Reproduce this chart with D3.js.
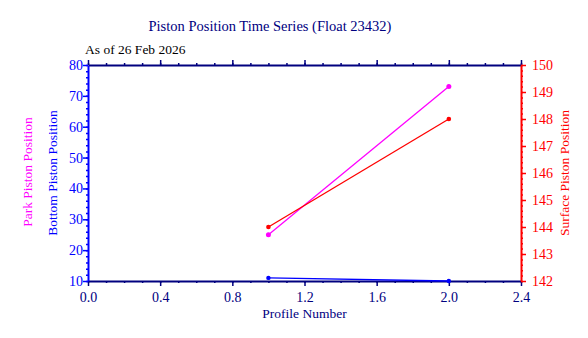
<!DOCTYPE html>
<html>
<head>
<meta charset="utf-8">
<script src="https://cdn.jsdelivr.net/npm/d3@7"></script>
<style>
  html, body { margin: 0; padding: 0; background: #fff; }
  svg text { font-family: "Liberation Serif", "Times New Roman", serif; }
</style>
</head>
<body>
<svg id="chart" width="588" height="338"></svg>
<script>
// Piston positions per profile
const profiles = [1, 2];
const parkPiston = [25, 73];
const bottomPiston = [11, 10];
const surfacePiston = [144, 148];

const xTicks = [0.0, 0.4, 0.8, 1.2, 1.6, 2.0, 2.4];
const leftTicks = [10, 20, 30, 40, 50, 60, 70, 80];
const rightTicks = [142, 143, 144, 145, 146, 147, 148, 149, 150];

const navy = "#00007f", blue = "#0000ff", red = "#ff0000", magenta = "#ff00ff";

const svg = d3.select("#chart");
const L = 88, R = 521, T = 65, B = 281;

const x = d3.scaleLinear().domain([0, 2.4]).range([L, R]);
const yL = d3.scaleLinear().domain([10, 80]).range([B, T]);
const yR = d3.scaleLinear().domain([142, 150]).range([B, T]);

// axes: major ticks with labels, minor ticks without
function drawAxis(axisFn, scale, major, minor, color, transform, labelColor, fmt, pad) {
  const gMin = svg.append("g").attr("transform", transform)
    .call(axisFn(scale).tickValues(minor).tickSize(2).tickFormat(""));
  gMin.select(".domain").remove();
  gMin.selectAll("line").attr("stroke", color).attr("stroke-width", 1.5);
  const g = svg.append("g").attr("transform", transform)
    .call(axisFn(scale).tickValues(major).tickSize(5).tickSizeOuter(0).tickPadding(pad).tickFormat(fmt));
  g.select(".domain").attr("stroke", color).attr("stroke-width", 2);
  g.selectAll("line").attr("stroke", color).attr("stroke-width", 1.5);
  g.selectAll("text").attr("fill", labelColor)
    .style("font-size", "14px");
  return g;
}

const xMinor = d3.range(0, 24.01, 1).map(d => d / 10);
const lMinor = d3.range(10, 80.01, 2);
const rMinor = d3.range(1420, 1500.01, 2).map(d => d / 10);

drawAxis(d3.axisBottom, x, xTicks, xMinor, navy, `translate(0,${B})`, navy, d3.format(".1f"), 6);
drawAxis(d3.axisTop, x, xTicks, xMinor, navy, `translate(0,${T})`, navy, "", 3);
drawAxis(d3.axisLeft, yL, leftTicks, lMinor, blue, `translate(${L},0)`, blue, d3.format("d"), 0);
drawAxis(d3.axisRight, yR, rightTicks, rMinor, red, `translate(${R},0)`, red, d3.format("d"), 6);

// series
function series(vals, scaleY, color, r) {
  const pts = profiles.map((p, i) => [p, vals[i]]);
  svg.append("path").datum(pts)
    .attr("fill", "none").attr("stroke", color).attr("stroke-width", 1.3)
    .attr("d", d3.line().x(d => x(d[0])).y(d => scaleY(d[1])));
  svg.append("g").selectAll("circle").data(pts).join("circle")
    .attr("cx", d => x(d[0])).attr("cy", d => scaleY(d[1]))
    .attr("r", r).attr("fill", color);
}
series(bottomPiston, yL, blue, 2.2);
series(parkPiston, yL, magenta, 2.5);
series(surfacePiston, yR, red, 2.3);

// titles
svg.append("text").attr("x", 270).attr("y", 31).attr("text-anchor", "middle")
  .attr("fill", navy).style("font-size", "14.5px").text("Piston Position Time Series (Float 23432)");
svg.append("text").attr("x", 85).attr("y", 54)
  .attr("fill", "#000").style("font-size", "13.5px").text("As of 26 Feb 2026");
svg.append("text").attr("x", 304.5).attr("y", 318).attr("text-anchor", "middle")
  .attr("fill", navy).style("font-size", "13.5px").text("Profile Number");

function vLabel(cx, cy, text, color) {
  svg.append("text").attr("transform", `translate(${cx},${cy}) rotate(-90)`)
    .attr("text-anchor", "middle").attr("dy", "0.35em")
    .attr("fill", color).style("font-size", "13.5px").text(text);
}
vLabel(27, 172, "Park Piston Position", magenta);
vLabel(52, 173, "Bottom Piston Position", blue);
vLabel(564, 173, "Surface Piston Position", red);
</script>
</body>
</html>
